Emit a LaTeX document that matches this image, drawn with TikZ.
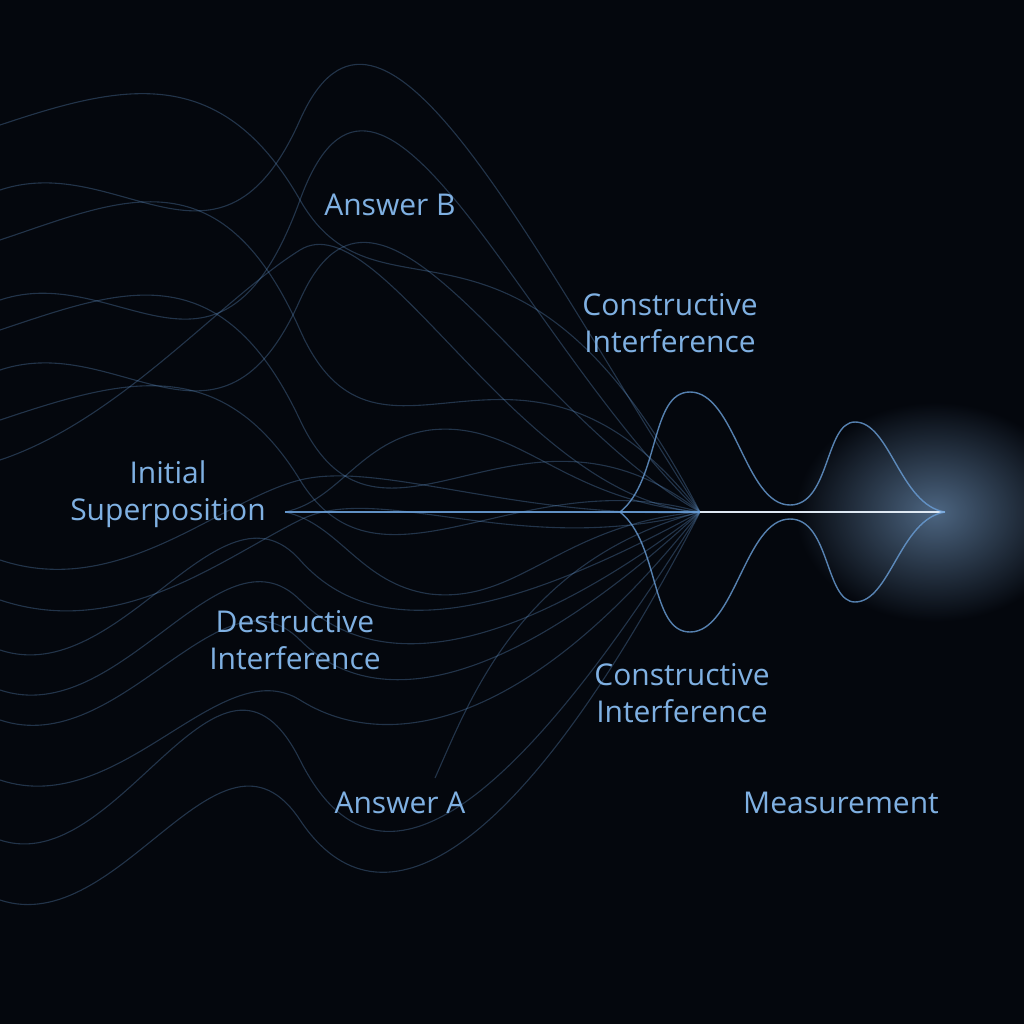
\documentclass[tikz,border=0pt]{standalone}
\usepackage{fontspec}
\setmainfont{Open Sans}
\definecolor{bg}{HTML}{04070D}
\definecolor{lab}{HTML}{7FB0E2}
\definecolor{wv}{HTML}{6A9FD8}
\begin{document}
\begin{tikzpicture}[x=1pt,y=-1pt,
  lbl/.style={text=lab,font=\fontsize{30}{37}\selectfont,align=center},
  faint/.style={draw=wv,opacity=0.3,line width=1.1pt},
  wave/.style={draw=wv,opacity=0.8,line width=1.4pt}]
\fill[bg] (0,0) rectangle (1024,1024);
\useasboundingbox (0,0) rectangle (1024,1024);
\shade[inner color=wv!80!white,outer color=bg,opacity=0.55] (935,512) ellipse (140 and 110);
% faint converging curves
\foreach \y/\a/\b in {125/60/200, 190/300/120, 240/150/330, 300/420/200, 330/250/420, 370/480/300, 420/350/480, 460/300/250}{
  \draw[faint] (0,\y) .. controls (120,\y-40) and (220,\a) .. (300,\b) .. controls (380,2*\b-\a) and (520,\y+40) .. (700,512);
}
\foreach \y/\a/\b in {900/700/820, 840/600/760, 780/650/700, 720/560/640, 690/520/600, 650/470/560, 600/560/520, 560/500/480}{
  \draw[faint] (0,\y) .. controls (120,\y+40) and (220,\a) .. (300,\b) .. controls (380,2*\b-\a) and (520,\y-40) .. (700,512);
}
\draw[faint] (285,512) .. controls (340,500) and (360,440) .. (430,430) .. controls (520,420) and (560,500) .. (700,512);
\draw[faint] (285,512) .. controls (340,524) and (360,584) .. (430,594) .. controls (520,604) and (560,524) .. (700,512);
\draw[faint] (435,778) .. controls (470,700) and (520,560) .. (700,512);
% main line
\draw[wave,line width=1.6pt,opacity=0.9] (285,512) coordinate (s) -- (945,512) coordinate (e);
\draw[white,opacity=0.8,line width=1.2pt] (700,512) -- (e);
% envelopes
\draw[wave] (620,512) .. controls (660,480) and (650,392) .. (690,392) .. controls (735,392) and (745,505) .. (790,505)
  .. controls (830,505) and (825,422) .. (855,422) .. controls (890,422) and (900,505) .. (945,512);
\draw[wave] (620,512) .. controls (660,544) and (650,632) .. (690,632) .. controls (735,632) and (745,519) .. (790,519)
  .. controls (830,519) and (825,602) .. (855,602) .. controls (890,602) and (900,519) .. (945,512);
% labels
\node[lbl] (ab) at (390,205) {Answer B};
\node[lbl] (c1) at (670,323) {Constructive\\Interference};
\node[lbl] (is) at (168,494) {Initial\\Superposition};
\node[lbl] (di) at (295,640) {Destructive\\Interference};
\node[lbl] (c2) at (682,693) {Constructive\\Interference};
\node[lbl] (aa) at (400,803) {Answer A};
\node[lbl] (me) at (841,803) {Measurement};
\end{tikzpicture}
\end{document}
